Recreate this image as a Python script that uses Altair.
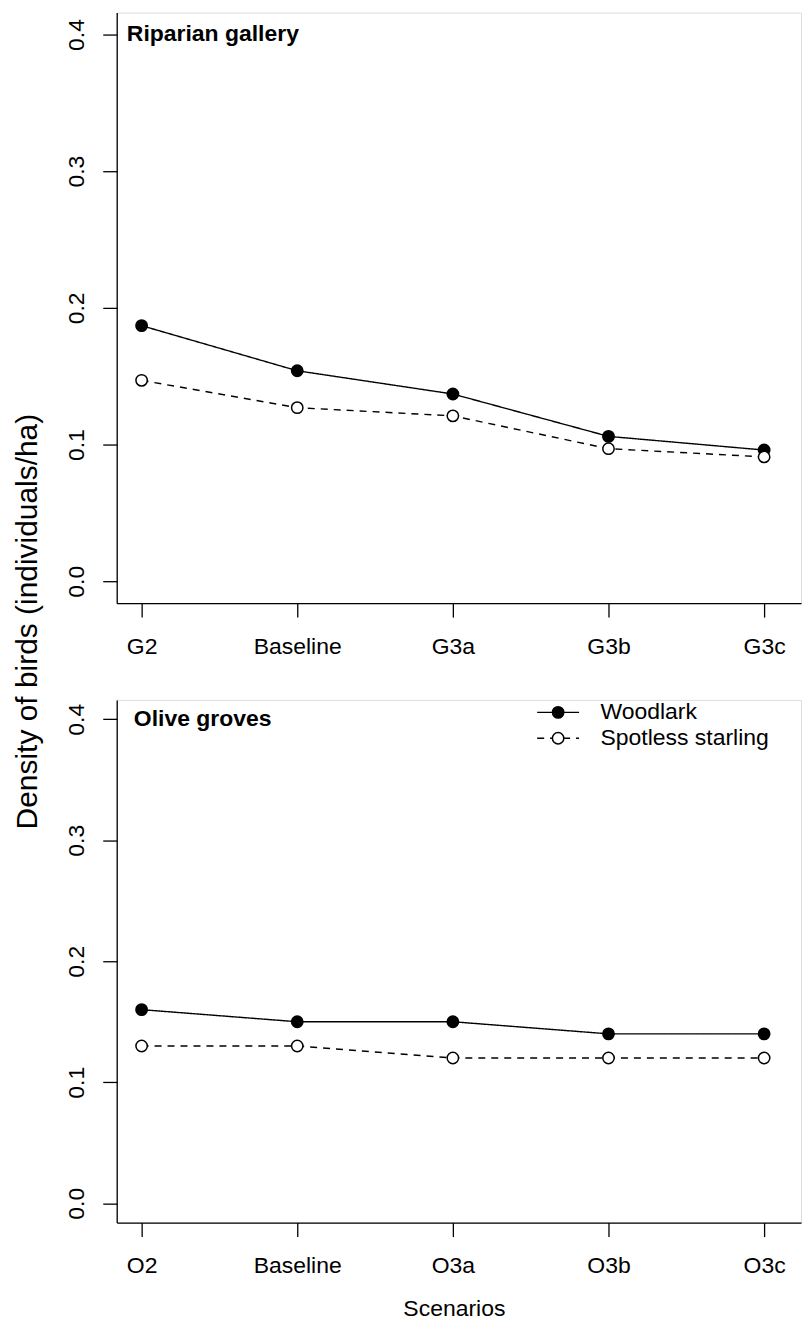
import json

import altair as alt
import pandas as pd

# Scenario names (x axis) for each habitat panel
riparian_scenarios = ["G2", "Baseline", "G3a", "G3b", "G3c"]
olive_scenarios = ["O2", "Baseline", "O3a", "O3b", "O3c"]
species = ["Woodlark", "Spotless starling"]

# Bird densities (individuals/ha)
riparian_woodlark = [0.187, 0.154, 0.137, 0.106, 0.096]
riparian_starling = [0.147, 0.127, 0.121, 0.097, 0.091]
olive_woodlark = [0.16, 0.15, 0.15, 0.14, 0.14]
olive_starling = [0.13, 0.13, 0.12, 0.12, 0.12]

y_ticks = [0.0, 0.1, 0.2, 0.3, 0.4]

FONT = "Liberation Sans"
FS = 23


def panel_frame(scenarios, woodlark, starling):
    rows = []
    for sp, values in zip(species, [woodlark, starling]):
        for i, (sc, v) in enumerate(zip(scenarios, values)):
            rows.append({"pos": i + 1, "scenario": sc, "species": sp, "density": v})
    return pd.DataFrame(rows)


axis_style = dict(
    domainColor="black", domainWidth=1.3, tickColor="black", tickWidth=1.3,
    tickSize=14, labelColor="black", labelFont=FONT, labelFontSize=FS,
    grid=False, labelOverlap=False, labelFlush=False,
    titleColor="black", titleFont=FONT, titleFontWeight="normal",
)

# The dash scale carries one spare domain value so its legend stays separate
# from the fill legend; the two legends are stacked to form "line + point" keys.
dash_scale = alt.Scale(domain=species + ["-"], range=[[1, 0], [7, 6], [1, 0]])
fill_scale = alt.Scale(domain=species, range=["black", "white"])

LEG_X, LEG_Y = 431, 1

dash_legend = alt.Legend(
    title=None, orient="none", legendX=LEG_X, legendY=LEG_Y, values=species,
    symbolType="M-4.2,0L4.2,0", symbolSize=100, symbolStrokeColor="black",
    symbolStrokeWidth=1.4, labelFont=FONT, labelFontSize=FS, labelColor="black",
    labelOffset=31, labelLimit=400, rowPadding=2, zindex=0,
)
point_legend = alt.Legend(
    title=None, orient="none", legendX=LEG_X, legendY=LEG_Y,
    symbolType="circle", symbolSize=130, symbolStrokeColor="black",
    symbolStrokeWidth=1.5, labelFont=FONT, labelFontSize=FS, labelOpacity=0,
    labelOffset=31, labelLimit=400, rowPadding=2, zindex=1,
)


def panel(df, scenarios, height, label, label_x, y_title, x_title, with_legend):
    x_axis = dict(axis_style)
    x_axis.update(values=[1, 2, 3, 4, 5], labelPadding=18,
                  labelExpr=f"{json.dumps(scenarios)}[datum.value - 1]")
    if x_title:
        x_axis.update(title=x_title, titleFontSize=FS, titleX=338, titleY=93,
                      titleAlign="center", titleBaseline="alphabetic")
    else:
        x_axis.update(title=None)

    y_axis = dict(axis_style)
    y_axis.update(values=y_ticks, format=".1f", labelAngle=270, labelAlign="center",
                  labelBaseline="alphabetic", labelPadding=19)
    if y_title:
        y_axis.update(title=y_title, titleFontSize=30, titleAngle=270, titleX=-80,
                      titleY=610, titleAlign="center", titleBaseline="alphabetic")
    else:
        y_axis.update(title=None)

    x = alt.X("pos:Q", scale=alt.Scale(domain=[0.84, 5.237], nice=False, zero=False),
              axis=alt.Axis(**x_axis))
    y = alt.Y("density:Q", scale=alt.Scale(domain=[-0.016, 0.416], nice=False, zero=False),
              axis=alt.Axis(**y_axis))

    base = alt.Chart(df)
    lines = base.mark_line(color="black", strokeWidth=1.4).encode(
        x=x, y=y,
        strokeDash=alt.StrokeDash("species:N", scale=dash_scale,
                                  legend=dash_legend if with_legend else None),
    )
    points = base.mark_point(shape="circle", filled=True, stroke="black",
                             strokeWidth=1.5, size=130, opacity=1).encode(
        x=x, y=y,
        fill=alt.Fill("species:N", scale=fill_scale,
                      legend=point_legend if with_legend else None),
    )
    title_text = alt.Chart(pd.DataFrame({"label": [label]})).mark_text(
        align="left", baseline="middle", font=FONT, fontSize=FS,
        fontWeight="bold", color="black",
    ).encode(x=alt.datum(label_x), y=alt.datum(0.4), text="label:N")

    return alt.layer(lines, points, title_text).properties(width=686, height=height)


top = panel(panel_frame(riparian_scenarios, riparian_woodlark, riparian_starling),
            riparian_scenarios, 592, "Riparian gallery", 0.905,
            "Density of birds (individuals/ha)", None, False)
bottom = panel(panel_frame(olive_scenarios, olive_woodlark, olive_starling),
               olive_scenarios, 524, "Olive groves", 0.95, None, "Scenarios", True)

chart = (
    alt.vconcat(top, bottom, spacing=97, bounds="flush")
    .resolve_scale(fill="independent", strokeDash="independent",
                   x="independent", y="independent")
    .resolve_legend(fill="independent", strokeDash="independent")
    .properties(padding={"left": 12, "top": 10, "right": 0, "bottom": 0})
    .configure_view(stroke=None)
    .configure(font=FONT)
)

chart.save("out.html", embed_options={"renderer": "svg", "actions": False})
